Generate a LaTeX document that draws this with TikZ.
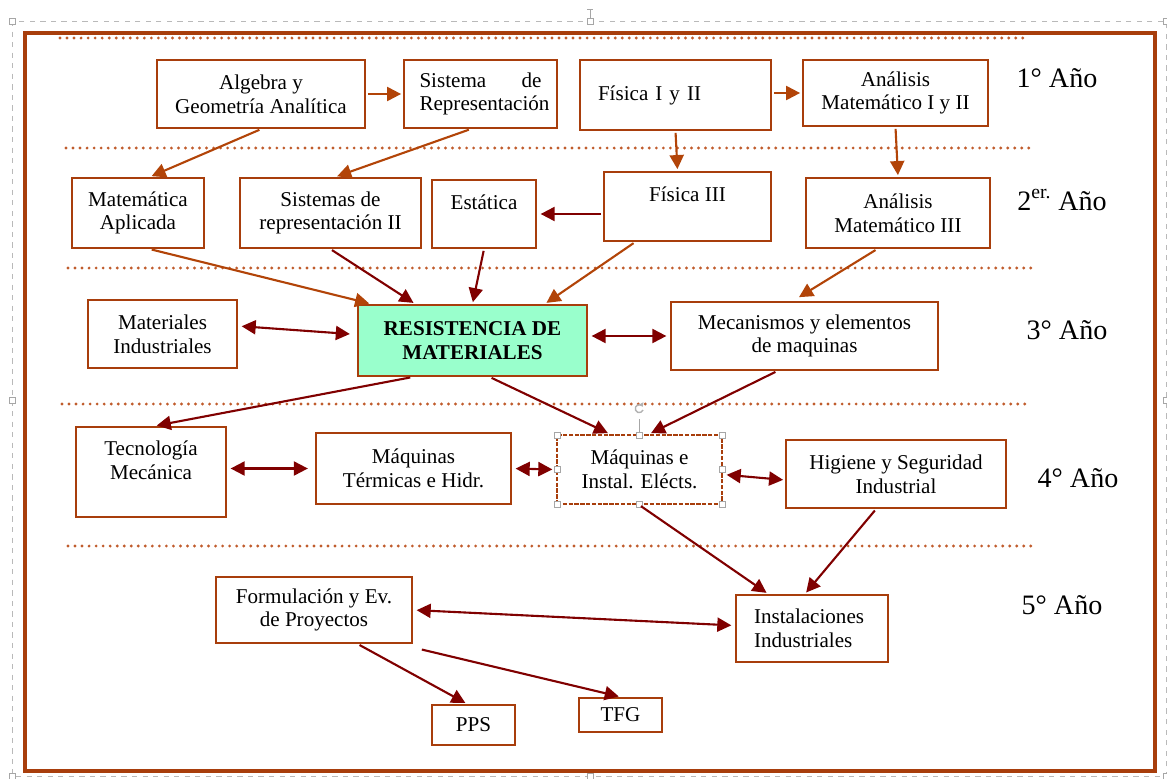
\documentclass[tikz,border=0pt]{standalone}
\usepackage{fontspec}
\setmainfont{Liberation Serif}
\usetikzlibrary{arrows.meta, positioning}
\definecolor{rustcolor}{RGB}{168,62,12}
\definecolor{ambercolor}{RGB}{178,68,8}
\definecolor{maroncolor}{RGB}{128,0,0}
\definecolor{mintcolor}{RGB}{153,255,204}
\definecolor{dotcolor}{RGB}{192,92,44}

\begin{document}
\begin{tikzpicture}[x=0.02cm, y=-0.02cm,
course/.style={
    rectangle,
    draw=rustcolor,
    line width=1.3pt,
    fill=white,
    align=center,
    inner sep=2pt,
    font=\fontsize{12}{13.5}\selectfont
},
yearlabel/.style={font=\fontsize{16}{18}\selectfont},
link/.style={-{Triangle[length=8pt,width=8pt]}, line width=1.2pt, color=maroncolor, shorten >=1pt, shorten <=1pt},
warmlink/.style={link, color=ambercolor},
twoway/.style={link, {Triangle[length=8pt,width=8pt]}-{Triangle[length=8pt,width=8pt]}},
sepline/.style={dotcolor, line width=1.8pt, line cap=round, dash pattern=on 0pt off 4pt},
handle/.style={draw=gray!70, fill=white, line width=0.4pt}]

\useasboundingbox (0,0) rectangle (1167,778);

% selection frame and outer border
\draw[gray!55, dashed, line width=0.4pt] (12,21) rectangle (1166,776);
\draw[gray!70, line width=0.4pt] (590,21) -- (590,9) (587,9) -- (593,9);
\foreach \hx/\hy in {12/21, 590/21, 1166/21, 12/400, 1166/400, 12/776, 590/776, 1166/776}
  \draw[handle] (\hx-3,\hy-3) rectangle (\hx+3,\hy+3);
\draw[rustcolor, line width=2.3pt] (25,33) rectangle (1155,771);

% year separators
\draw[sepline] (60,38) -- (1028,38);
\draw[sepline] (66,148) -- (1032,148);
\draw[sepline] (68,268) -- (1032,268);
\draw[sepline] (62,404) -- (1027,404);
\draw[sepline] (68,546) -- (1032,546);

% 1st year
\node[course, minimum width=4.16cm, minimum height=1.36cm] (alg) at (261,94) {Algebra y\\Geometría Analítica};
\node[course, minimum width=3.06cm, minimum height=1.36cm, align=left, text width=2.44cm] (sis) at (480.5,94) {Sistema\hfill de\\Representación};
\node[course, minimum width=3.82cm, minimum height=1.40cm, align=left, text width=3.1cm] (fis) at (675.5,95) {Física I y II};
\node[course, minimum width=3.70cm, minimum height=1.32cm] (ana) at (895.5,93) {Análisis\\Matemático I y II};

% 2nd year
\node[course, minimum width=2.64cm, minimum height=1.40cm] (mat) at (138,213) {Matemática\\Aplicada};
\node[course, minimum width=3.62cm, minimum height=1.40cm] (srep) at (330.5,213) {Sistemas de\\representación II};
\node[course, minimum width=2.08cm, minimum height=1.36cm] (est) at (484,214) {Estática\\ \mbox{}};
\node[course, minimum width=3.34cm, minimum height=1.38cm] (fis3) at (687.5,206.5) {Física III\\ \mbox{}};
\node[course, minimum width=3.68cm, minimum height=1.40cm] (ana3) at (898,213) {Análisis\\Matemático III};

% 3rd year
\node[course, minimum width=2.98cm, minimum height=1.36cm] (matind) at (162.5,334) {Materiales\\Industriales};
\node[course, fill=mintcolor, minimum width=4.58cm, minimum height=1.42cm, font=\fontsize{12}{13.5}\selectfont\bfseries] (rdm) at (472.5,340.5) {RESISTENCIA DE\\MATERIALES};
\node[course, minimum width=5.34cm, minimum height=1.36cm] (mec) at (804.5,336) {Mecanismos y elementos\\de maquinas};

% 4th year
\node[course, minimum width=3.00cm, minimum height=1.80cm] (tec) at (151,472) {Tecnología\\Mecánica\\ \mbox{}};
\node[course, minimum width=3.90cm, minimum height=1.42cm] (mterm) at (413.5,468.5) {Máquinas\\Térmicas e Hidr.};
\node[course, minimum width=3.30cm, minimum height=1.38cm, dash pattern=on 2.5pt off 0.8pt] (melec) at (639.5,469.5) {Máquinas e\\Instal. Eléc\-ts.};
\node[course, minimum width=4.40cm, minimum height=1.36cm] (hig) at (896,474) {Higiene y Seguridad\\Industrial};

% 5th year
\node[course, minimum width=3.92cm, minimum height=1.32cm] (form) at (314,610) {Formulación y Ev.\\de Proyectos};
\node[course, minimum width=3.04cm, minimum height=1.34cm, align=left, text width=2.32cm] (inst) at (812,628.5) {Instalaciones\\Industriales};
\node[course, minimum width=1.66cm, minimum height=0.80cm] (pps) at (473.5,725) {PPS};
\node[course, minimum width=1.66cm, minimum height=0.68cm] (tfg) at (620.5,715) {TFG};

% year labels
\node[yearlabel] (y1) at (1057,78) {1° Año};
\node[yearlabel] (y2) at (1062,200) {2\textsuperscript{er.} Año};
\node[yearlabel] (y3) at (1067,330) {3° Año};
\node[yearlabel] (y4) at (1078,478) {4° Año};
\node[yearlabel] (y5) at (1062,605) {5° Año};

% selection handles on the electric machines box
\draw[gray!70, line width=0.4pt] (melec.north) -- ++(0,-15);
\draw[gray!60, line width=0.8pt, -{Triangle[length=2pt,width=3pt]}] (643,410) arc[start angle=20, end angle=330, radius=4];
\foreach \hx/\hy in {557/435, 639.5/435, 722/435, 557/469.5, 722/469.5, 557/504, 639.5/504, 722/504}
  \draw[handle] (\hx-3,\hy-3) rectangle (\hx+3,\hy+3);

% 1st -> 2nd year
\draw[warmlink] (alg.east) -- (sis.west);
\draw[warmlink] (fis.east |- ana.west) -- (ana.west);
\draw[warmlink] (alg.south) -- ([xshift=0.24cm]mat.north);
\draw[warmlink] ([xshift=-0.2cm]sis.south) -- ([xshift=0.1cm]srep.north);
\draw[warmlink] (fis.south) -- ([xshift=-0.2cm]fis3.north);
\draw[warmlink] (ana.south) -- (ana3.north);
\draw[link, shorten >=2pt] (fis3.west |- est.east) -- (est.east);

% 2nd -> 3rd year
\draw[warmlink] ([xshift=0.24cm]mat.south) -- ([xshift=0.28cm]rdm.north west);
\draw[link] (srep.south) -- ([xshift=-1.15cm]rdm.north);
\draw[link] (est.south) -- (rdm.north);
\draw[warmlink] ([xshift=-1.05cm]fis3.south) -- ([xshift=1.45cm]rdm.north);
\draw[warmlink, shorten >=4pt] ([xshift=-0.42cm]ana3.south) -- ([xshift=-0.23cm]mec.north);
\draw[twoway, shorten <=2pt, shorten >=4pt] ([yshift=0.16cm]matind.east) -- ([yshift=0.12cm]rdm.west);
\draw[twoway, shorten <=2pt, shorten >=2pt] (rdm.east |- mec.west) -- (mec.west);

% 3rd -> 4th year
\draw[link] ([xshift=-1.21cm]rdm.south) -- ([xshift=0.08cm]tec.north);
\draw[link] ([xshift=0.35cm]rdm.south) -- ([xshift=-0.6cm]melec.north);
\draw[link] ([xshift=-0.55cm]mec.south) -- ([xshift=0.2cm]melec.north);
\draw[twoway, shorten <=2pt, shorten >=4pt] (tec.east |- mterm.west) -- (mterm.west);
\draw[twoway, shorten <=2pt, shorten >=2pt] (mterm.east) -- (melec.west);
\draw[twoway, shorten <=2pt, shorten >=1pt] ([yshift=-0.1cm]melec.east) -- ([yshift=-0.12cm]hig.west);

% 4th -> 5th year
\draw[link] (melec.south) -- ([xshift=-0.88cm]inst.north);
\draw[link] ([xshift=-0.4cm]hig.south) -- ([xshift=-0.14cm]inst.north);
\draw[twoway, shorten <=2pt, shorten >=2pt] (form.east) -- ([yshift=0.06cm]inst.west);
\draw[link] ([xshift=0.88cm]form.south) -- ([xshift=-0.13cm]pps.north);
\draw[link] ([xshift=0.14cm, yshift=-0.1cm]form.south east) -- (tfg.north);

\end{tikzpicture}
\end{document}
